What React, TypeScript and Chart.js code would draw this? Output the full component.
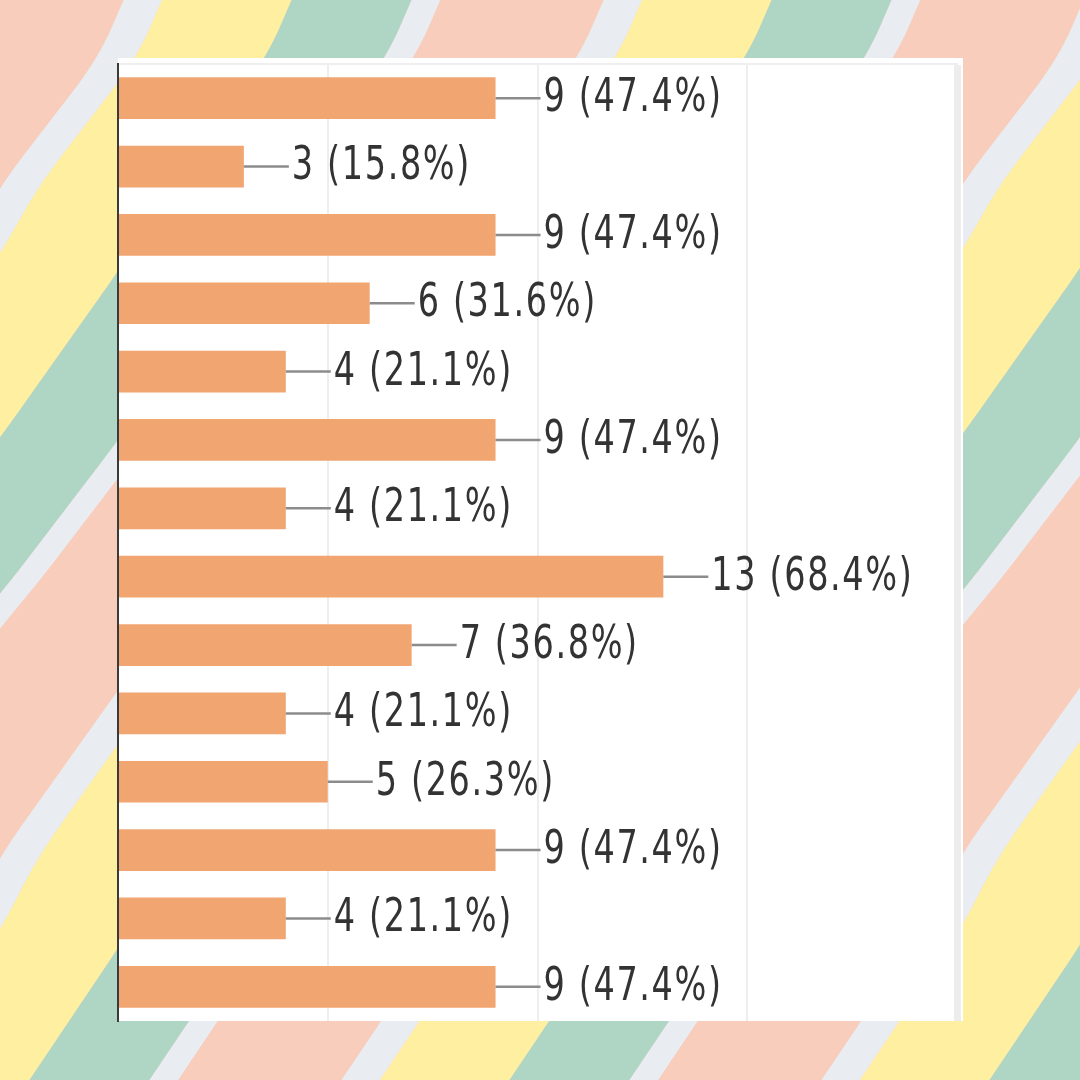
import React, { useEffect, useRef } from "react";
import { Chart, registerables } from "chart.js";

Chart.register(...registerables);

const categories = ["1", "2", "3", "4", "5", "6", "7", "8", "9", "10", "11", "12", "13", "14"];
const counts = [9, 3, 9, 6, 4, 9, 4, 13, 7, 4, 5, 9, 4, 9];
const percents = [47.4, 15.8, 47.4, 31.6, 21.1, 47.4, 21.1, 68.4, 36.8, 21.1, 26.3, 47.4, 21.1, 47.4];
const xTicks = [0, 5, 10, 15, 20];

const BAR_COLOR = "#F1A570";
const STRIPES: [number, number, string][] = [
  [0.0, 0.27, "#FEF0A0"],
  [0.27, 0.52, "#AFD6C5"],
  [0.52, 0.58, "#E9EDF2"],
  [0.58, 0.92, "#F8CDBC"],
  [0.92, 1.0, "#E9EDF2"],
];

// decorative background: stripe phase along y (piecewise, gives the wavy look)
const WAVE_Y = [0, 58, 186, 255, 438, 595, 627, 856, 931, 1080];
const WAVE_G = [0, 0.052, 0.2575, 0.3375, 0.6075, 0.8575, 0.9175, 1.2575, 1.3375, 1.546];

const phaseLinear = (y: number) => {
  if (y <= WAVE_Y[0]) {
    const s = (WAVE_G[1] - WAVE_G[0]) / (WAVE_Y[1] - WAVE_Y[0]);
    return WAVE_G[0] + s * (y - WAVE_Y[0]);
  }
  for (let i = 1; i < WAVE_Y.length; i++) {
    if (y <= WAVE_Y[i]) {
      const t = (y - WAVE_Y[i - 1]) / (WAVE_Y[i] - WAVE_Y[i - 1]);
      return WAVE_G[i - 1] + (WAVE_G[i] - WAVE_G[i - 1]) * t;
    }
  }
  const n = WAVE_Y.length - 1;
  const s = (WAVE_G[n] - WAVE_G[n - 1]) / (WAVE_Y[n] - WAVE_Y[n - 1]);
  return WAVE_G[n] + s * (y - WAVE_Y[n]);
};

const phaseY = (y: number) => {
  let sum = 0;
  let n = 0;
  for (let d = -30; d <= 30; d += 6) {
    sum += phaseLinear(y + d);
    n++;
  }
  return sum / n;
};

const backgroundPlugin = {
  id: "stripesPanel",
  beforeDraw(chart: any) {
    const ctx = chart.ctx as CanvasRenderingContext2D;
    const W = chart.width;
    const H = chart.height;
    const P = 480;
    const x0 = 162;
    const lineX = (c: number, y: number) => x0 + P * (c - phaseY(y));
    ctx.save();
    ctx.fillStyle = "#F8CDBC";
    ctx.fillRect(0, 0, W, H);
    const step = 4;
    for (let k = -3; k <= 4; k++) {
      for (const [a, b, col] of STRIPES) {
        const c1 = k + a;
        const c2 = k + b;
        ctx.beginPath();
        for (let y = 0; y <= H; y += step) {
          const X = lineX(c1, y);
          if (y === 0) ctx.moveTo(X, y);
          else ctx.lineTo(X, y);
        }
        for (let y = H; y >= 0; y -= step) ctx.lineTo(lineX(c2, y), y);
        ctx.closePath();
        ctx.fillStyle = col;
        ctx.fill();
      }
    }
    const area = chart.chartArea;
    ctx.fillStyle = "#FFFFFF";
    ctx.fillRect(area.left, area.top - 6, area.right - area.left + 6, area.bottom - area.top + 6);
    ctx.restore();
  },
};

const labelPlugin = {
  id: "leaderLabels",
  afterDatasetsDraw(chart: any) {
    const ctx = chart.ctx as CanvasRenderingContext2D;
    const meta = chart.getDatasetMeta(0);
    const sx = 0.81;
    meta.data.forEach((bar: any, i: number) => {
      const endX = bar.x;
      const y = bar.y;
      ctx.save();
      ctx.strokeStyle = "#8C8C8C";
      ctx.lineWidth = 2.5;
      ctx.beginPath();
      ctx.moveTo(endX, y);
      ctx.lineTo(endX + 45, y);
      ctx.stroke();
      ctx.translate(endX + 48, y + 1);
      ctx.scale(sx, 1);
      ctx.font = "46px 'DejaVu Sans Condensed', 'DejaVu Sans', sans-serif";
      (ctx as any).letterSpacing = "2px";
      ctx.textAlign = "left";
      ctx.textBaseline = "middle";
      ctx.fillStyle = "#333333";
      ctx.fillText(`${counts[i]} (${percents[i].toFixed(1)}%)`, 0, 0);
      ctx.restore();
    });
  },
};

export default function App() {
  const canvasRef = useRef<HTMLCanvasElement | null>(null);

  useEffect(() => {
    document.body.style.margin = "0";
    const canvas = canvasRef.current;
    if (!canvas) return;
    const chart = new Chart(canvas, {
      type: "bar",
      data: {
        labels: categories,
        datasets: [
          {
            data: counts,
            backgroundColor: BAR_COLOR,
            borderWidth: 0,
            categoryPercentage: 1,
            barPercentage: 0.61,
          },
        ],
      },
      options: {
        indexAxis: "y",
        responsive: false,
        animation: false,
        devicePixelRatio: 1,
        layout: { padding: { left: 118, top: 64, right: 1080 - 957, bottom: 1080 - 1021 } },
        plugins: { legend: { display: false }, tooltip: { enabled: false } },
        scales: {
          x: {
            type: "linear",
            position: "top",
            min: 0,
            max: 20,
            afterBuildTicks: (scale: any) => {
              scale.ticks = xTicks.map((v) => ({ value: v }));
            },
            afterFit: (scale: any) => {
              scale.height = 0;
            },
            ticks: { display: false },
            grid: {
              drawTicks: false,
              color: (c: any) => (c.tick && c.tick.value === 20 ? "#EDEDED" : "#EEEEEE"),
              lineWidth: (c: any) => (c.tick && c.tick.value === 20 ? 7 : 2),
            },
            border: { display: true, color: "#EFEFEF", width: 2 },
          },
          y: {
            type: "category",
            afterFit: (scale: any) => {
              scale.width = 0;
            },
            ticks: { display: false },
            grid: { display: false, drawTicks: false },
            border: { display: true, color: "#3A3A3A", width: 2 },
          },
        },
      },
      plugins: [backgroundPlugin, labelPlugin],
    } as any);
    return () => chart.destroy();
  }, []);

  return (
    <div style={{ position: "fixed", left: 0, top: 0, width: 1080, height: 1080 }}>
      <canvas ref={canvasRef} width={1080} height={1080} style={{ width: 1080, height: 1080, display: "block" }} />
    </div>
  );
}
